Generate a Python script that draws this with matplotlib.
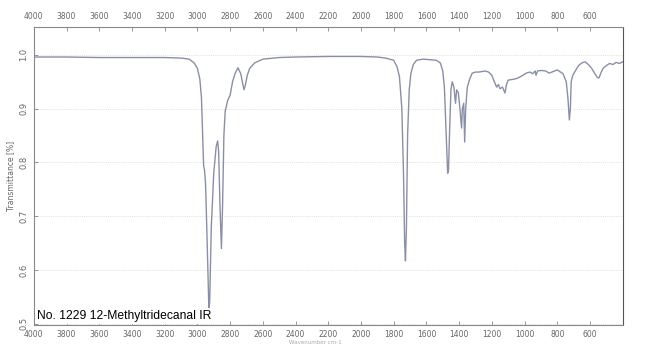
#!/usr/bin/env python3
"""
Redraw the scanned IR spectrum of 12-Methyltridecanal
"""

import matplotlib
matplotlib.use('Agg')
import matplotlib.pyplot as plt

# Spectrum (wavenumber in cm-1, transmittance)
wavenumber = [
    4000, 3800, 3600, 3400, 3200, 3100, 3050, 3020, 3000, 2985,
    2975, 2968, 2962, 2956, 2950, 2940, 2930, 2925, 2915, 2900,
    2885, 2876, 2870, 2862, 2853, 2846, 2838, 2830, 2815, 2800,
    2785, 2770, 2752, 2735, 2722, 2715, 2708, 2695, 2680, 2650,
    2600, 2500, 2400, 2200, 2000, 1900, 1850, 1800, 1780, 1765,
    1750, 1740, 1733, 1728, 1722, 1715, 1705, 1695, 1680, 1660,
    1620, 1580, 1540, 1515, 1500, 1490, 1480, 1470, 1465, 1458,
    1450, 1442, 1432, 1422, 1415, 1405, 1395, 1385, 1380, 1372,
    1366, 1360, 1350, 1335, 1320, 1300, 1280, 1260, 1240, 1220,
    1200, 1185, 1170, 1160, 1150, 1135, 1120, 1110, 1100, 1060,
    1040, 1010, 990, 967, 950, 935, 930, 920, 900, 870,
    850, 800, 780, 765, 745, 735, 726, 720, 715, 705,
    690, 670, 650, 630, 610, 590, 570, 555, 545, 535,
    520, 500, 480, 460, 440, 420, 400,
]
transmittance = [
    0.996, 0.996, 0.995, 0.995, 0.995, 0.994, 0.992, 0.985, 0.975, 0.955,
    0.920, 0.850, 0.795, 0.785, 0.760, 0.650, 0.530, 0.540, 0.680, 0.780,
    0.830, 0.840, 0.820, 0.720, 0.640, 0.720, 0.850, 0.895, 0.915, 0.925,
    0.950, 0.965, 0.976, 0.965, 0.945, 0.935, 0.942, 0.962, 0.975, 0.985,
    0.992, 0.995, 0.996, 0.997, 0.997, 0.996, 0.994, 0.990, 0.978, 0.960,
    0.900, 0.780, 0.650, 0.617, 0.680, 0.850, 0.935, 0.965, 0.982, 0.990,
    0.992, 0.991, 0.990, 0.985, 0.970, 0.940, 0.860, 0.780, 0.785, 0.860,
    0.935, 0.950, 0.940, 0.910, 0.935, 0.930, 0.900, 0.864, 0.900, 0.910,
    0.838, 0.900, 0.940, 0.955, 0.966, 0.968, 0.968, 0.969, 0.970, 0.968,
    0.962, 0.950, 0.940, 0.945, 0.937, 0.940, 0.929, 0.945, 0.953, 0.955,
    0.957, 0.962, 0.966, 0.968, 0.965, 0.970, 0.962, 0.970, 0.971, 0.970,
    0.966, 0.972, 0.968, 0.965, 0.950, 0.920, 0.879, 0.900, 0.950, 0.962,
    0.970, 0.980, 0.985, 0.987, 0.982, 0.975, 0.965, 0.958, 0.957, 0.965,
    0.975, 0.980, 0.984, 0.982, 0.986, 0.984, 0.987,
]

x_ticks = [4000, 3800, 3600, 3400, 3200, 3000, 2800, 2600, 2400, 2200,
           2000, 1800, 1600, 1400, 1200, 1000, 800, 600]
y_ticks = [0.5, 0.6, 0.7, 0.8, 0.9, 1.0]
y_tick_labels = ['0.5', '0.6', '0.7', '0.8', '0.9', '1.0']

title_text = 'No. 1229 12-Methyltridecanal IR'

fig = plt.figure(figsize=(6.5, 3.49), dpi=100)
ax = fig.add_axes([0.052, 0.069, 0.906, 0.854])

ax.plot(wavenumber, transmittance, color='#8a8fa8', linewidth=1.0)

ax.set_xlim(4000, 400)
ax.set_ylim(0.498, 1.052)

# Ticks on both top and bottom, labels on both as in the scan
ax.set_xticks(x_ticks)
ax.set_xticklabels([str(t) for t in x_ticks])
ax.tick_params(axis='x', which='both', top=True, labeltop=True,
               direction='in', length=3, width=0.6, colors='#888888',
               labelsize=5.5, labelcolor='#666666', pad=4)
ax.set_yticks(y_ticks)
ax.set_yticklabels(y_tick_labels, rotation=90, va='center')
ax.tick_params(axis='y', direction='in', length=3, width=0.6,
               colors='#888888', labelsize=6, labelcolor='#666666', pad=4)

ax.grid(True, axis='y', linestyle=':', linewidth=0.5, color='#cccccc')

for side in ['left', 'right', 'top', 'bottom']:
    ax.spines[side].set_color('#888888')
    ax.spines[side].set_linewidth(0.8)
ax.spines['right'].set_color('#555555')

ax.set_ylabel('Transmittance [%]', fontsize=5.5, color='#666666', labelpad=3)
fig.text(0.485, 0.012, 'Wavenumber cm-1', fontsize=4, color='#aaaaaa',
         ha='center', va='bottom')

# Sample label box in the lower left corner
ax.text(0.006, 0.01, title_text, transform=ax.transAxes,
        fontsize=8.7, family='Liberation Sans', color='black',
        ha='left', va='bottom',
        bbox=dict(boxstyle='square,pad=0.2', facecolor='white',
                  edgecolor='none'))

plt.savefig('out.png', dpi=100)
plt.close()
